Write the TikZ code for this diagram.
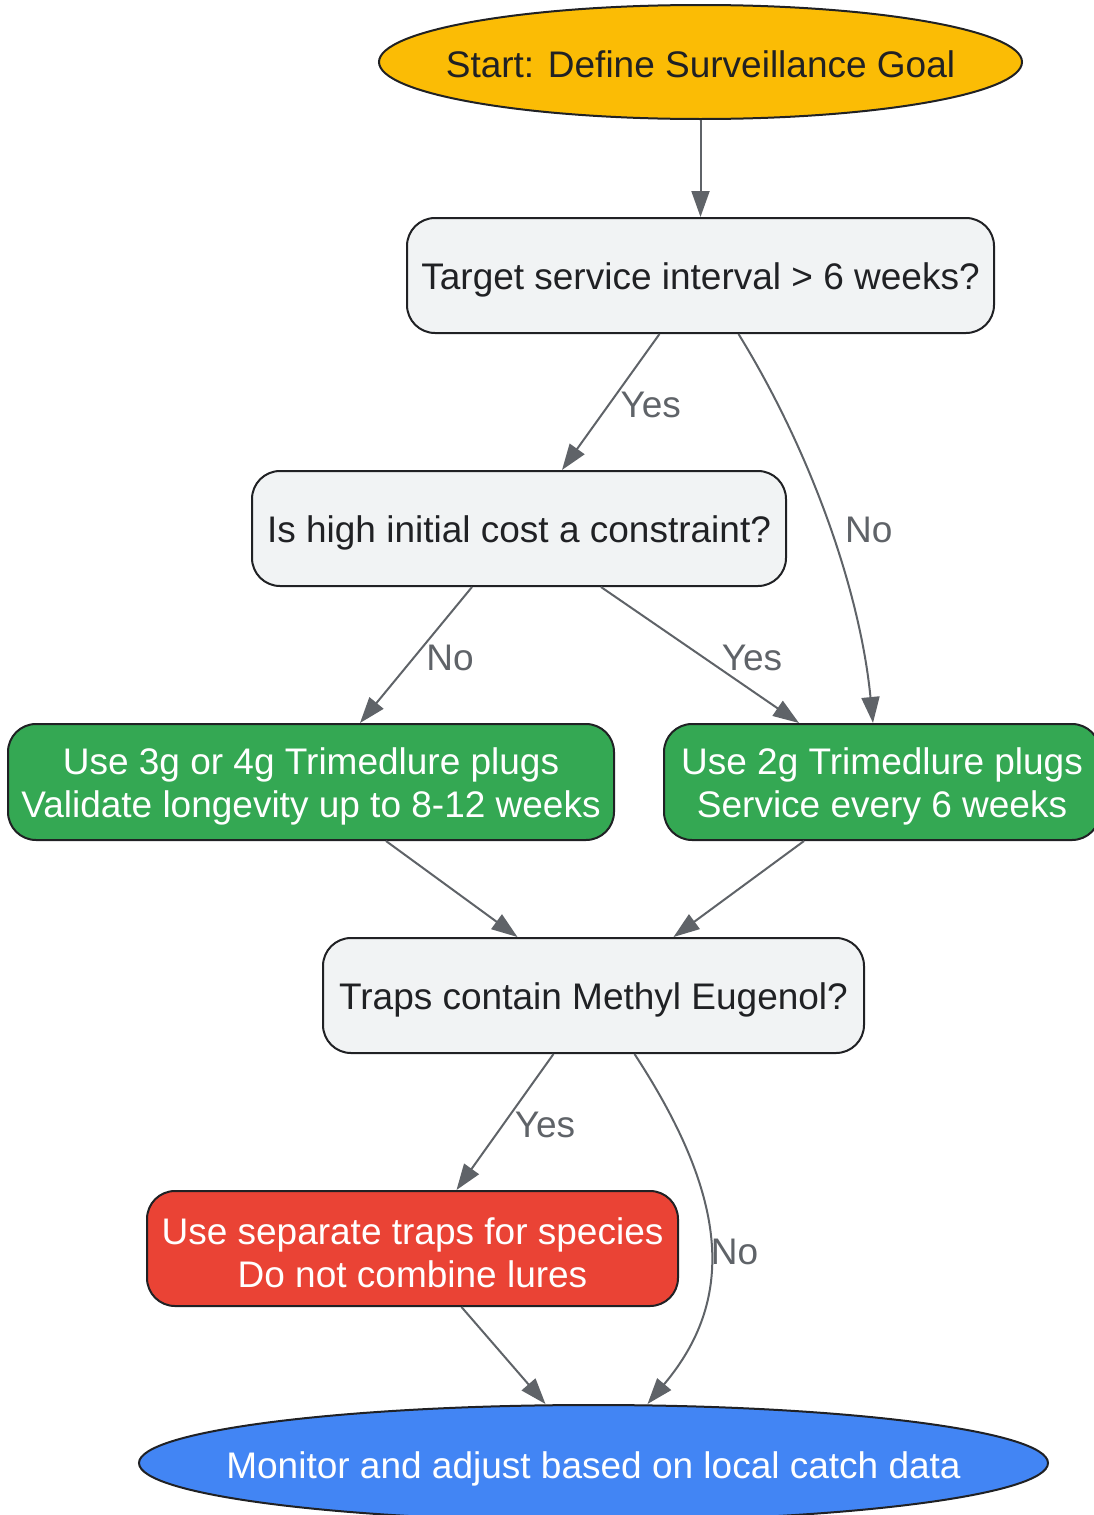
\documentclass[tikz,border=0pt]{standalone}
\usepackage{fontspec}
\setmainfont{Liberation Sans}
\usetikzlibrary{shapes.geometric,arrows.meta}
\definecolor{cYellow}{HTML}{FBBC05}
\definecolor{cGray}{HTML}{F1F3F4}
\definecolor{cGreen}{HTML}{34A853}
\definecolor{cRed}{HTML}{EA4335}
\definecolor{cBlue}{HTML}{4285F4}
\definecolor{cBorder}{HTML}{202124}
\definecolor{cEdge}{HTML}{5F6368}
\newcommand\mystrut[1]{\rule{0pt}{#1}}
\tikzset{
  box/.style={draw=cBorder, line width=2pt, rounded corners=28pt, inner sep=0pt,
    align=center, font=\fontsize{37}{43}\selectfont},
  oval/.style={ellipse, draw=cBorder, line width=2pt, inner sep=0pt,
    font=\fontsize{37}{43}\selectfont},
  arr/.style={draw=cEdge, line width=2pt, -{Triangle[length=26pt,width=18pt]}},
  lbl/.style={text=cEdge, inner sep=0pt, font=\fontsize{37}{43}\selectfont},
}
\begin{document}
\begin{tikzpicture}[x=1pt,y=-1pt]
\useasboundingbox (0,0) rectangle (1094,1515);
\node[oval, fill=cYellow, text=cBorder, minimum width=643pt, minimum height=114pt] (s) at (700.5,62) {\makebox[0pt][c]{\mystrut{31pt}Start: Define Surveillance Goal}};
\node[box, fill=cGray, text=cBorder, minimum width=587pt, minimum height=115pt] (b1) at (700.5,275.5) {\mystrut{36pt}Target service interval > 6 weeks?};
\node[box, fill=cGray, text=cBorder, minimum width=534pt, minimum height=115pt] (b2) at (519,528.5) {\mystrut{36pt}Is high initial cost a constraint?};
\node[box, fill=cGreen, text=white, minimum width=606pt, minimum height=116pt] (b3) at (311,782) {\mystrut{36pt}Use 3g or 4g Trimedlure plugs\\Validate longevity up to 8-12 weeks};
\node[box, fill=cGreen, text=white, minimum width=436pt, minimum height=116pt] (b4) at (882,782) {\mystrut{36pt}Use 2g Trimedlure plugs\\Service every 6 weeks};
\node[box, fill=cGray, text=cBorder, minimum width=541pt, minimum height=115pt] (b5) at (593.5,995.5) {\mystrut{36pt}Traps contain Methyl Eugenol?};
\node[box, fill=cRed, text=white, minimum width=531pt, minimum height=115pt] (b6) at (412.5,1248.5) {\mystrut{36pt}Use separate traps for species\\Do not combine lures};
\node[oval, fill=cBlue, text=white, minimum width=909pt, minimum height=116pt] (e) at (593.5,1463) {\makebox[0pt][c]{\mystrut{38pt}Monitor and adjust based on local catch data}};

\draw[arr] (s.south) -- (b1.north);
\draw[arr] ([xshift=-41pt]b1.south) -- node[lbl, xshift=40pt, yshift=-3pt] {Yes} ([xshift=43pt]b2.north);
\draw[arr] ([xshift=38pt]b1.south) .. controls (810,450) and (860,590) .. node[lbl, xshift=41pt, yshift=-8pt] {No} ([xshift=-9pt]b4.north);
\draw[arr] ([xshift=-47pt]b2.south) -- node[lbl, xshift=34pt, yshift=-3pt] {No} ([xshift=49pt]b3.north);
\draw[arr] ([xshift=82pt]b2.south) -- node[lbl, xshift=52pt, yshift=-3pt] {Yes} ([xshift=-83pt]b4.north);
\draw[arr] ([xshift=75pt]b3.south) -- ([xshift=-76pt]b5.north);
\draw[arr] ([xshift=-78pt]b4.south) -- ([xshift=80pt]b5.north);
\draw[arr] ([xshift=-40pt]b5.south) -- node[lbl, xshift=40pt, yshift=-3pt] {Yes} ([xshift=44pt]b6.north);
\draw[arr] ([xshift=41pt]b5.south) .. controls (730,1200) and (735,1300) .. node[lbl, xshift=25pt, yshift=-7pt] {No} ([xshift=54pt]e.north);
\draw[arr] ([xshift=49pt]b6.south) -- ([xshift=-48pt]e.north);
\end{tikzpicture}
\end{document}
